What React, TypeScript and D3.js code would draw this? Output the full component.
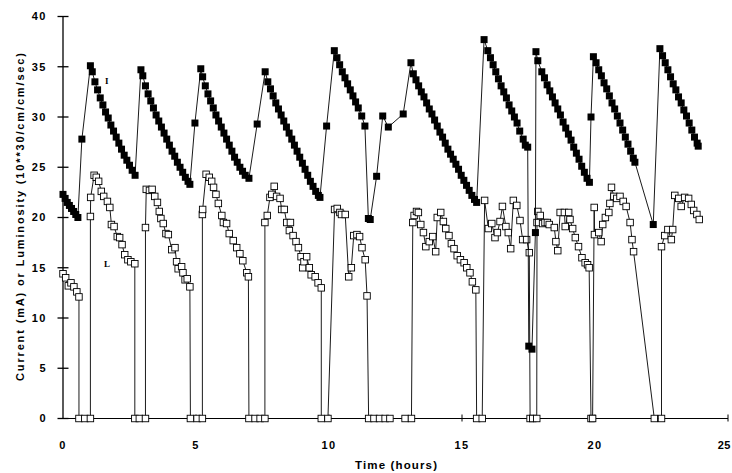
import React from "react";
import * as d3 from "d3";

// Current (I) — beam current, mA
const currentHours = [
  0.0, 0.08, 0.16, 0.24, 0.32, 0.4, 0.48, 0.56,
  0.71,
  1.03, 1.1, 1.2, 1.3, 1.4, 1.5, 1.6, 1.7, 1.8, 1.9, 2.0, 2.1, 2.2, 2.3, 2.4, 2.5, 2.6, 2.71,
  2.93, 3.0, 3.1, 3.2, 3.3, 3.4, 3.5, 3.6, 3.7, 3.8, 3.9, 4.0, 4.1, 4.2, 4.3, 4.4, 4.5, 4.6, 4.7, 4.77,
  4.96,
  5.18, 5.25, 5.35, 5.45, 5.55, 5.65, 5.75, 5.85, 5.95, 6.05, 6.15, 6.25, 6.35, 6.45, 6.55, 6.65, 6.75, 6.85, 6.99,
  7.3,
  7.6, 7.7, 7.8, 7.9, 8.0, 8.1, 8.2, 8.3, 8.4, 8.5, 8.6, 8.7, 8.8, 8.9, 9.0, 9.1, 9.2, 9.3, 9.4, 9.5, 9.6, 9.66,
  9.91,
  10.2, 10.3, 10.4, 10.5, 10.6, 10.7, 10.8, 10.9, 11.0, 11.1, 11.23, 11.35,
  11.48, 11.55, 11.79, 12.02, 12.23, 12.79,
  13.08, 13.17, 13.27, 13.37, 13.47, 13.57, 13.67, 13.77, 13.87, 13.97, 14.07, 14.17, 14.27, 14.37, 14.47, 14.57, 14.67, 14.77, 14.87, 14.97, 15.07, 15.17, 15.27, 15.37, 15.47, 15.55,
  15.83, 15.97, 16.07, 16.17, 16.27, 16.37, 16.47, 16.57, 16.67, 16.77, 16.87, 16.97, 17.07, 17.17, 17.3, 17.38, 17.47,
  17.51, 17.63, 17.76,
  17.78, 17.85, 18.0, 18.1, 18.2, 18.3, 18.4, 18.5, 18.6, 18.7, 18.8, 18.9, 19.0, 19.1, 19.2, 19.3, 19.4, 19.5, 19.6, 19.7, 19.79,
  19.85,
  19.94, 20.04, 20.14, 20.24, 20.34, 20.44, 20.54, 20.64, 20.74, 20.84, 20.94, 21.04, 21.14, 21.24, 21.34, 21.44, 21.5,
  22.19,
  22.44, 22.54, 22.64, 22.74, 22.84, 22.94, 23.04, 23.14, 23.24, 23.34, 23.44, 23.54, 23.64, 23.74, 23.84, 23.88,
];
const currentMA = [
  22.3, 21.9, 21.5, 21.2, 20.9, 20.6, 20.3, 20.0,
  27.8,
  35.1, 34.5, 33.5, 32.7, 31.9, 31.2, 30.5, 29.9, 29.2, 28.6, 28.0, 27.4, 26.8, 26.2, 25.7, 25.2, 24.7, 24.2,
  34.7, 34.1, 33.1, 32.3, 31.6, 30.9, 30.2, 29.6, 29.0, 28.4, 27.8, 27.2, 26.6, 26.1, 25.5, 25.0, 24.5, 24.0, 23.6, 23.3,
  29.4,
  34.8, 34.0, 33.1, 32.3, 31.6, 30.9, 30.2, 29.6, 29.0, 28.4, 27.8, 27.2, 26.6, 26.0, 25.5, 25.0, 24.6, 24.2, 23.9,
  29.3,
  34.5, 33.5, 32.8, 32.1, 31.4, 30.8, 30.2, 29.6, 29.0, 28.4, 27.8, 27.2, 26.6, 26.0, 25.4, 24.8, 24.2, 23.6, 23.1, 22.6, 22.2, 22.0,
  29.1,
  36.6, 35.9, 35.2, 34.5, 33.9, 33.3, 32.7, 32.1, 31.5, 30.9, 30.1, 29.1,
  19.9, 19.8, 24.1, 30.1, 29.0, 30.3,
  35.4, 34.3, 33.7, 33.1, 32.5, 32.0, 31.4, 30.8, 30.3, 29.7, 29.1, 28.5, 28.0, 27.4, 26.8, 26.3, 25.8, 25.3, 24.8, 24.2, 23.7, 23.2, 22.7, 22.2, 21.8, 21.5,
  37.7, 36.6, 35.9, 35.2, 34.5, 33.8, 33.1, 32.5, 31.9, 31.2, 30.6, 30.0, 29.4, 28.6, 27.8, 27.2, 27.0,
  7.2, 6.9, 18.5,
  36.5, 35.6, 34.5, 33.9, 33.2, 32.6, 32.0, 31.4, 30.8, 30.2, 29.5, 28.9, 28.3, 27.7, 27.0, 26.4, 25.8, 25.1, 24.5, 23.9, 23.5,
  30.0,
  36.0, 35.4, 34.7, 34.1, 33.4, 32.8, 32.1, 31.4, 30.8, 30.1, 29.4, 28.7, 28.0, 27.3, 26.6, 25.9, 25.5,
  19.3,
  36.8, 36.1, 35.4, 34.7, 34.0, 33.3, 32.7, 32.0, 31.4, 30.7, 30.1, 29.4, 28.7, 28.0, 27.4, 27.1,
];

// Luminosity (L) — 10**30/cm/cm/sec
const lumiHours = [
  0.0, 0.1, 0.2, 0.3, 0.41, 0.52, 0.6,
  0.6, 0.82, 1.03,
  1.03, 1.04, 1.17, 1.25, 1.34, 1.44, 1.53, 1.67, 1.76, 1.82, 1.92, 2.04, 2.13, 2.22, 2.32, 2.44, 2.55, 2.7,
  2.7, 2.87, 3.1,
  3.1, 3.13, 3.25, 3.35, 3.45, 3.55, 3.62, 3.68, 3.77, 3.87, 3.96, 4.09, 4.21, 4.27, 4.33, 4.46, 4.51, 4.59, 4.67, 4.77,
  4.79, 5.04, 5.24,
  5.24, 5.25, 5.38, 5.5, 5.59, 5.66, 5.75, 5.84, 5.97, 6.03, 6.15, 6.25, 6.4, 6.53, 6.65, 6.76, 6.91, 6.97,
  6.99, 7.22, 7.41, 7.59,
  7.59, 7.68, 7.78, 7.85, 7.94, 8.03, 8.16, 8.22, 8.32, 8.41, 8.51, 8.55, 8.65, 8.76, 8.85, 8.95, 9.01, 9.06, 9.16, 9.26, 9.33, 9.48, 9.59, 9.71,
  9.71, 9.96,
  10.21, 10.31, 10.41, 10.47, 10.61, 10.74, 10.84, 10.93, 11.05, 11.15, 11.24, 11.36, 11.43,
  11.49, 11.69, 11.9, 12.11, 12.29, 12.86, 13.1,
  13.15, 13.2, 13.29, 13.36, 13.45, 13.55, 13.64, 13.77, 13.9, 14.01, 14.07, 14.2, 14.3, 14.39, 14.51, 14.6, 14.7, 14.82, 14.94, 15.08, 15.18, 15.3, 15.39, 15.52,
  15.55, 15.76,
  15.85, 15.99, 16.12, 16.24, 16.33, 16.43, 16.52, 16.65, 16.74, 16.83, 16.93, 17.06, 17.18, 17.28, 17.43, 17.53,
  17.56, 17.66, 17.81,
  17.82, 17.85, 17.94, 18.03, 18.12, 18.21, 18.28, 18.47, 18.53, 18.6, 18.69, 18.85, 18.88, 19.01, 19.06, 19.16, 19.26, 19.38, 19.51, 19.63, 19.72, 19.78,
  19.85, 19.91,
  19.97, 19.98, 20.14, 20.23, 20.29, 20.39, 20.52, 20.56, 20.62, 20.71, 20.82, 20.94, 21.06, 21.17, 21.32, 21.39, 21.45,
  22.23, 22.5,
  22.5, 22.62, 22.74, 22.87, 22.92, 23.0, 23.15, 23.24, 23.37, 23.52, 23.62, 23.71, 23.83, 23.92,
];
const lumiValue = [
  14.4, 14.0, 13.2, 13.5, 13.1, 12.6, 12.1,
  0, 0, 0,
  20.1, 22.0, 24.2, 24.0, 23.6, 22.6, 22.1, 21.6, 21.0, 19.3, 19.1, 18.1, 18.0, 17.3, 16.3, 15.8, 15.6, 15.4,
  0, 0, 0,
  19.0, 22.8, 22.7, 22.8, 22.1, 21.5, 20.6, 19.9, 19.4, 18.4, 18.3, 16.8, 17.0, 15.6, 14.9, 15.1, 14.5, 13.8, 13.9, 13.1,
  0, 0, 0,
  20.3, 20.8, 24.3, 24.0, 23.6, 23.0, 22.3, 21.4, 20.2, 19.5, 19.4, 18.4, 17.7, 17.0, 16.4, 15.7, 14.5, 14.1,
  0, 0, 0, 0,
  19.5, 20.2, 22.0, 22.3, 23.1, 22.1, 21.9, 20.8, 20.8, 19.5, 18.7, 19.5, 18.2, 17.6, 17.0, 16.1, 15.0, 15.6, 16.1, 15.0, 14.3, 14.1, 13.5, 13.0,
  0, 0,
  20.8, 20.9, 20.5, 20.3, 20.3, 14.1, 15.0, 18.2, 18.3, 18.1, 17.0, 15.8, 12.2,
  0, 0, 0, 0, 0, 0, 0,
  19.5, 20.2, 20.6, 20.5, 19.3, 18.5, 17.1, 17.6, 18.1, 16.6, 20.0, 20.5, 19.6, 18.9, 18.2, 17.4, 16.9, 16.2, 15.8, 15.5, 15.0, 14.5, 13.6, 12.8,
  0, 0,
  21.7, 18.9, 19.4, 18.0, 18.5, 19.6, 21.1, 19.1, 18.5, 16.9, 21.7, 21.2, 19.7, 17.8, 17.8, 16.5,
  0, 0, 0,
  19.5, 20.6, 20.2, 19.4, 19.5, 19.5, 19.3, 19.0, 17.6, 16.7, 20.5, 20.5, 19.1, 20.5, 19.8, 18.9, 18.0, 17.1, 16.0, 15.5, 15.3, 15.0,
  0, 0,
  21.0, 18.3, 18.5, 17.6, 19.3, 20.0, 20.5, 21.4, 23.0, 22.1, 21.9, 22.1, 21.6, 21.1, 19.5, 17.8, 16.6,
  0, 0,
  17.1, 18.2, 18.8, 17.8, 18.8, 22.2, 21.9, 21.1, 22.0, 21.9, 21.3, 20.7, 20.3, 19.8,
];

const xTicks = [0, 5, 10, 15, 20, 25];
const yTicks = [0, 5, 10, 15, 20, 25, 30, 35, 40];
const xTitle = "Time (hours)";
const yTitle = "Current (mA) or Luminosity (10**30/cm/cm/sec)";

export default function App() {
  const W = 732;
  const H = 473;
  const x = d3.scaleLinear().domain([0, 25]).range([63, 728]);
  const y = d3.scaleLinear().domain([0, 40]).range([418.5, 16.5]);

  const cur = currentHours.map((t, i) => [t, currentMA[i]] as [number, number]);
  const lum = lumiHours.map((t, i) => [t, lumiValue[i]] as [number, number]);
  const line = d3
    .line<[number, number]>()
    .x((d) => x(d[0]))
    .y((d) => y(d[1]));

  const sqI = 7;
  const sqL = 6.5;
  const font = "'Liberation Sans', Arial, Helvetica, sans-serif";

  return (
    <svg
      width={W}
      height={H}
      style={{ position: "absolute", left: 0, top: 0, background: "#fff" }}
    >
      <rect x={0} y={0} width={W} height={H} fill="#fff" />
      {/* axes */}
      <line x1={x(0)} x2={x(0)} y1={y(0)} y2={y(40)} stroke="#000" strokeWidth={1.3} />
      <line x1={x(0)} x2={x(25)} y1={y(0)} y2={y(0)} stroke="#000" strokeWidth={1} />
      {yTicks.map((t) => (
        <g key={"y" + t}>
          <line x1={x(0) - 5.5} x2={x(0) + 5.5} y1={y(t)} y2={y(t)} stroke="#000" strokeWidth={1.3} />
          <text
            x={47}
            y={y(t)}
            dy="0.35em"
            textAnchor="end"
            fontFamily={font}
            fontWeight="bold"
            fontSize={11}
            letterSpacing={1.5}
          >
            {t}
          </text>
        </g>
      ))}
      {xTicks.map((t) => (
        <g key={"x" + t}>
          {t > 0 && (
            <line x1={x(t)} x2={x(t)} y1={y(0) - 4} y2={y(0) + 3} stroke="#000" strokeWidth={1} />
          )}
          <text
            x={t === 25 ? 731 : x(t)}
            y={449}
            textAnchor={t === 25 ? "end" : "middle"}
            fontFamily={font}
            fontWeight="bold"
            fontSize={11}
            letterSpacing={t === 25 ? 0.5 : 1.5}
          >
            {t}
          </text>
        </g>
      ))}
      <text
        x={396}
        y={469}
        textAnchor="middle"
        fontFamily={font}
        fontWeight="bold"
        fontSize={11.5}
        textLength={82}
        lengthAdjust="spacing"
      >
        {xTitle}
      </text>
      <text
        transform="translate(24,217) rotate(-90)"
        textAnchor="middle"
        fontFamily={font}
        fontWeight="bold"
        fontSize={11}
        textLength={328}
        lengthAdjust="spacing"
      >
        {yTitle}
      </text>

      {/* Luminosity series */}
      <path d={line(lum) || ""} fill="none" stroke="#000" strokeWidth={0.9} />
      {lum.map((d, i) => (
        <rect
          key={"l" + i}
          x={x(d[0]) - sqL / 2}
          y={y(d[1]) - sqL / 2}
          width={sqL}
          height={sqL}
          fill="#fff"
          stroke="#000"
          strokeWidth={0.9}
        />
      ))}

      {/* Current series */}
      <path d={line(cur) || ""} fill="none" stroke="#000" strokeWidth={0.9} />
      {cur.map((d, i) => (
        <rect
          key={"c" + i}
          x={x(d[0]) - sqI / 2}
          y={y(d[1]) - sqI / 2}
          width={sqI}
          height={sqI}
          fill="#000"
        />
      ))}

      <text x={105} y={84} fontFamily="'Liberation Serif', 'Times New Roman', serif" fontWeight="bold" fontSize={9}>
        I
      </text>
      <text x={104} y={267} fontFamily="'Liberation Serif', 'Times New Roman', serif" fontWeight="bold" fontSize={9}>
        L
      </text>
    </svg>
  );
}
